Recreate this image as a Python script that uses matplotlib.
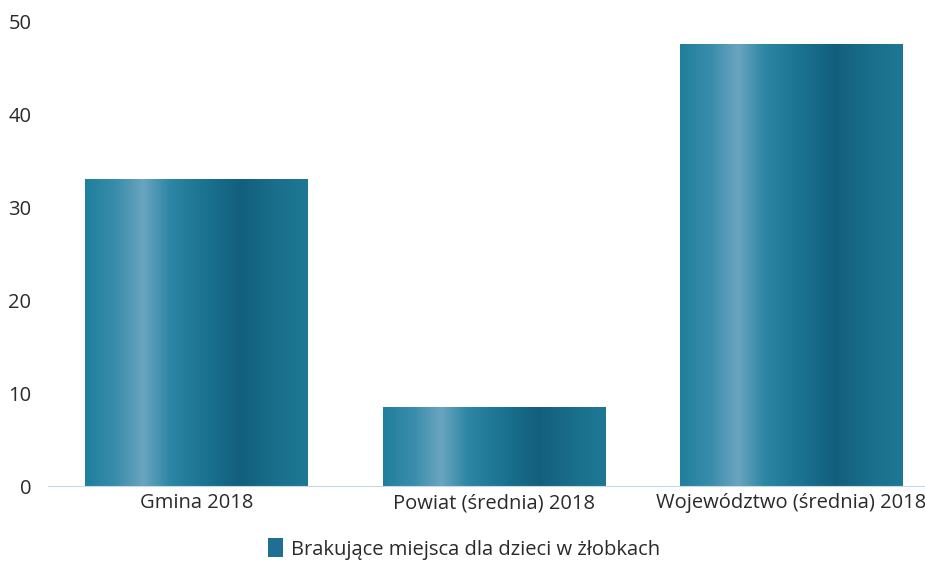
import matplotlib
matplotlib.use('Agg')
import matplotlib.pyplot as plt
import numpy as np
from matplotlib.colors import LinearSegmentedColormap
from matplotlib.patches import Patch

plt.rcParams['font.family'] = ['Open Sans', 'DejaVu Sans']

categories = ['Gmina 2018', 'Powiat (średnia) 2018', 'Województwo (średnia) 2018']
values = [33.1, 8.5, 47.6]
series_label = 'Brakujące miejsca dla dzieci w żłobkach'

# cylindryczny gradient słupka
cyl = LinearSegmentedColormap.from_list('cyl', [
    (0.0, '#1f7f9c'),
    (0.14, '#3a8dac'),
    (0.26, '#6aa5c0'),
    (0.38, '#2c86a4'),
    (0.55, '#1a7190'),
    (0.7, '#125f7c'),
    (0.86, '#1a6f8c'),
    (1.0, '#1e7895'),
])

fig = plt.figure(figsize=(9.25, 5.64), dpi=100)
ax = fig.add_axes([0.052, 0.138, 0.948, 0.823])

x = np.arange(len(categories))
bars = ax.bar(x, values, width=0.75, color='none', edgecolor='none')
grad = np.linspace(0, 1, 256).reshape(1, -1)
for b in bars:
    x0, w, h = b.get_x(), b.get_width(), b.get_height()
    im = ax.imshow(grad, cmap=cyl, aspect='auto', extent=[x0, x0 + w, 0, h],
                   interpolation='bicubic', zorder=2)
    im.set_clip_path(b)

ax.set_xlim(-0.5, 2.45)
ax.set_ylim(0, 50)
ax.set_yticks([0, 10, 20, 30, 40, 50])
ax.set_xticks(x)
ax.set_xticklabels(categories)
for s in ['top', 'right', 'left']:
    ax.spines[s].set_visible(False)
ax.spines['bottom'].set_color('#c8d8e4')
ax.tick_params(axis='both', length=0, labelsize=14.5, colors='#2a2a2a', pad=5)
ax.tick_params(axis='y', pad=12)

handle = Patch(facecolor='#1f6f95', edgecolor='none')
fig.legend([handle], [series_label], loc='center', bbox_to_anchor=(0.502, 0.027),
           frameon=False, fontsize=14.5, handlelength=0.75, handleheight=1.1,
           handletextpad=0.4, labelcolor='#2a2a2a')

fig.savefig('out.png', dpi=100)
plt.close()
